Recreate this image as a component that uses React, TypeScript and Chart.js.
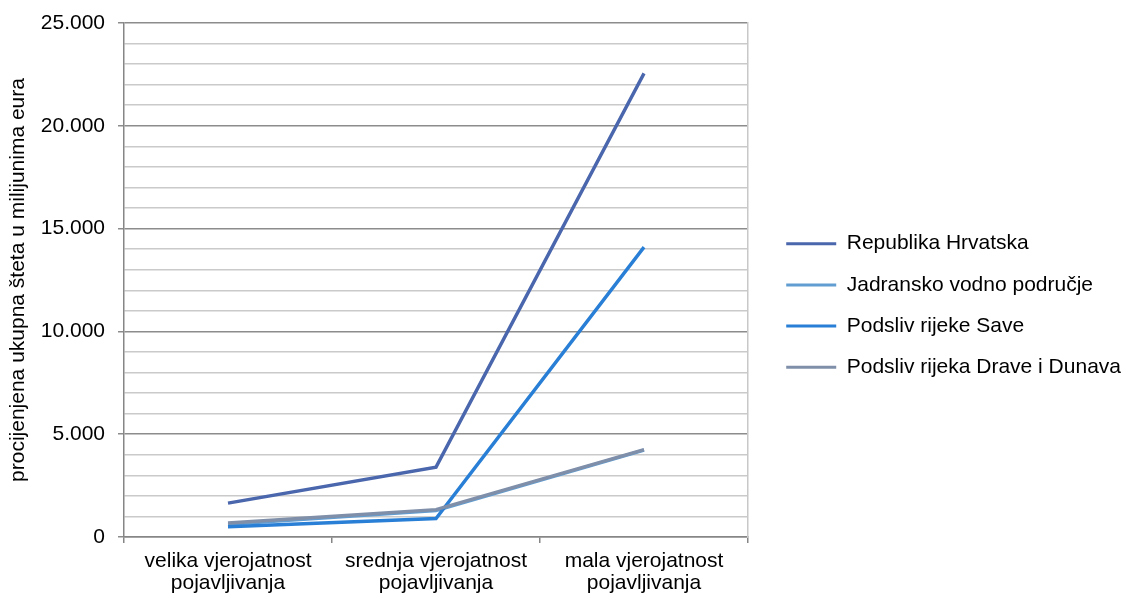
import React, { useEffect, useRef } from "react";
import { Chart, registerables } from "chart.js";

Chart.register(...registerables);

const categories: string[][] = [
  ["velika vjerojatnost", "pojavljivanja"],
  ["srednja vjerojatnost", "pojavljivanja"],
  ["mala vjerojatnost", "pojavljivanja"],
];
const seriesNames = [
  "Republika Hrvatska",
  "Jadransko vodno područje",
  "Podsliv rijeke Save",
  "Podsliv rijeka Drave i Dunava",
];
const republikaHrvatska = [1650, 3400, 22550];
const jadranskoPodrucje = [620, 1280, 4230];
const podslivSave = [500, 900, 14100];
const podslivDraveDunava = [680, 1330, 4250];
const seriesColors = ["#4A66AC", "#629DD1", "#297FD5", "#7F8FA9"];
const yTicksMajor = [0, 5000, 10000, 15000, 20000, 25000];
const yAxisTitle = "procijenjena ukupna šteta u milijunima eura";

const FONT = "'Liberation Sans', Arial, sans-serif";

const legendShift = {
  id: "legendShift",
  afterLayout(chart: any) {
    const l = chart.legend;
    if (l) {
      l.top -= 5;
      l.bottom -= 5;
    }
  },
};

export default function App() {
  const canvasRef = useRef<HTMLCanvasElement | null>(null);

  useEffect(() => {
    document.body.style.margin = "0";
    const canvas = canvasRef.current;
    if (!canvas) return;
    const values = [republikaHrvatska, jadranskoPodrucje, podslivSave, podslivDraveDunava];
    const chart = new Chart(canvas, {
      type: "line",
      data: {
        labels: categories as any,
        datasets: values.map((v, i) => ({
          label: seriesNames[i],
          data: v,
          borderColor: seriesColors[i],
          backgroundColor: seriesColors[i],
          borderWidth: 3.4,
          pointRadius: 0,
          pointHoverRadius: 0,
          tension: 0,
          fill: false,
          order: 3 - i,
          yAxisID: "y",
        })),
      },
      plugins: [legendShift],
      options: {
        animation: false,
        responsive: true,
        maintainAspectRatio: false,
        layout: { padding: { top: 23, left: 0, right: -2, bottom: 0 } },
        plugins: {
          tooltip: { enabled: false },
          legend: {
            position: "right",
            maxWidth: 600,
            labels: {
              boxWidth: 50,
              boxHeight: 3,
              padding: 20.2,
              color: "#000",
              font: { family: FONT, size: 21 },
              sort: (a: any, b: any) => a.datasetIndex - b.datasetIndex,
              generateLabels: (c: any) => {
                const items = (Chart.defaults.plugins.legend.labels as any).generateLabels(c);
                return items.map((it: any) => ({ ...it, fillStyle: it.strokeStyle, lineWidth: 0 }));
              },
            },
          },
        },
        scales: {
          x: {
            type: "category",
            offset: true,
            grid: {
              offset: true,
              drawOnChartArea: false,
              tickLength: 6,
              color: "#868686",
              lineWidth: 1.5,
            },
            border: { color: "#868686", width: 1.5 },
            ticks: {
              color: "#000",
              font: { family: FONT, size: 21, lineHeight: 1.05 },
              maxRotation: 0,
              padding: 7,
            },
            afterFit: (s: any) => {
              s.height = 61;
            },
          },
          y: {
            type: "linear",
            min: 0,
            max: 25000,
            ticks: {
              stepSize: 1000,
              autoSkip: false,
              color: "#000",
              padding: 13,
              font: { family: FONT, size: 21, lineHeight: 0.9 },
              callback: (v: any) =>
                yTicksMajor.includes(Number(v)) ? Number(v).toLocaleString("de-DE") : "",
            },
            grid: {
              tickLength: 6,
              lineWidth: 1.5,
              color: (ctx: any) =>
                ctx.tick && yTicksMajor.includes(ctx.tick.value) ? "#8c8c8c" : "#cacaca",
              tickColor: (ctx: any) =>
                ctx.tick && yTicksMajor.includes(ctx.tick.value) ? "#8c8c8c" : "rgba(0,0,0,0)",
            },
            border: { color: "#868686", width: 1.5 },
            title: {
              display: true,
              text: yAxisTitle,
              color: "#000",
              font: { family: FONT, size: 21, lineHeight: 1.2 },
              padding: { top: 6, bottom: 0 },
            },
            afterFit: (s: any) => {
              s.width = 124;
            },
          },
          yRight: {
            type: "linear",
            position: "right",
            min: 0,
            max: 1,
            ticks: { display: false },
            grid: { display: false, drawOnChartArea: false },
            border: { display: true, color: "#c8c8c8", width: 1.5 },
            afterFit: (s: any) => {
              s.width = 18;
            },
          },
        },
      } as any,
    });
    return () => chart.destroy();
  }, []);

  return (
    <div style={{ width: 1129, height: 598, position: "relative", background: "#fff" }}>
      <canvas ref={canvasRef} />
    </div>
  );
}
